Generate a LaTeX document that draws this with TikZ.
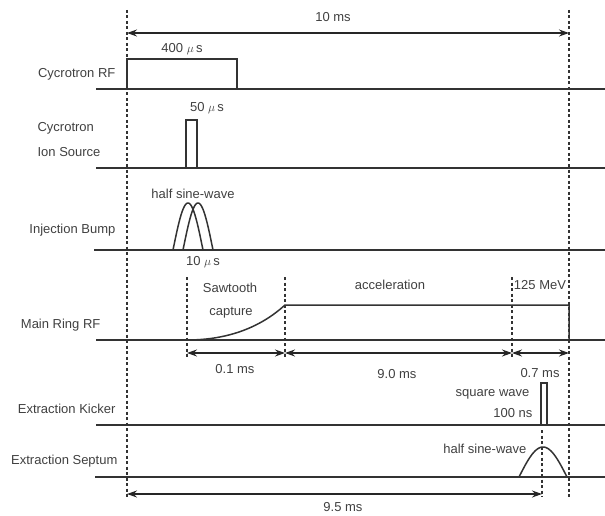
\documentclass[tikz,border=0pt]{standalone}
\usepackage{fontspec}
\setmainfont{Liberation Sans}
\usetikzlibrary{arrows.meta}
\begin{document}
\begin{tikzpicture}[x=1pt,y=-1pt,>={Stealth[length=10pt,width=7pt]},line width=1.2pt]
  \tikzstyle{lbl}=[font=\fontsize{13}{15}\selectfont, text=black!75, inner sep=0pt]
  \tikzstyle{sig}=[draw=black!80, line width=1.5pt]
  \tikzstyle{guide}=[draw=black!80, dash pattern=on 3pt off 2.5pt, line width=1.2pt]
  \tikzstyle{dim}=[draw=black!85, <->, line width=1.2pt]

  \useasboundingbox (0,0) rectangle (605,516);

  \coordinate (inj) at (127,0);
  \coordinate (ext) at (569,0);
  \coordinate (cap) at (187,0);
  \coordinate (acc) at (285,0);
  \coordinate (top) at (512,0);
  \coordinate (kick) at (542,0);

  % time marks
  \draw[guide] (127,10) -- (127,497);
  \draw[guide] (569,10) -- (569,497);
  \draw[guide] (187,277) -- (187,358);
  \draw[guide] (285,277) -- (285,358);
  \draw[guide] (512,277) -- (512,358);
  \draw[guide] (542,430) -- (542,497);

  % signal lines
  \node[lbl, anchor=east] (rf) at (116,74) {Cycrotron RF};
  \draw[sig] (96,89) -- (605,89);
  \draw[sig] (127,89) -- (127,59) -- (237,59) -- (237,89);
  \node[lbl] (rfw) at (182,49) {400 $\mu$\,s};

  \node[lbl, anchor=west] (ion1) at (37,128) {Cycrotron};
  \node[lbl, anchor=west] (ion2) at (37,152) {Ion Source};
  \draw[sig] (96,168) -- (605,168);
  \draw[sig] (186,168) -- (186,120) -- (197,120) -- (197,168);
  \node[lbl] (ionw) at (207,108) {50 $\mu$\,s};

  \node[lbl, anchor=east] (bump) at (116,230) {Injection Bump};
  \draw[sig] (94,250) -- (605,250);
  \draw[sig] plot[domain=0:180, samples=40] ({173+30*\x/180},{250-47*sin(\x)});
  \draw[sig] plot[domain=0:180, samples=40] ({183+30*\x/180},{250-47*sin(\x)});
  \node[lbl] (bumpw) at (193,194) {half sine-wave};
  \node[lbl] (bumpt) at (203,262) {10 $\mu$\,s};

  \node[lbl, anchor=east] (ring) at (101,325) {Main Ring RF};
  \draw[sig] (96,340) -- (605,340);
  \draw[sig] (187,340) .. controls (230,340) and (262,326) .. (285,305) -- (569,305) -- (569,340);
  \node[lbl] (saw1) at (230,288) {Sawtooth};
  \node[lbl] (saw2) at (231,313) {capture};
  \node[lbl] (accl) at (390,285) {acceleration};
  \node[lbl] (mev) at (540,285) {125 MeV};

  \draw[dim] (cap |- 0,353) -- (acc |- 0,353);
  \draw[dim] (acc |- 0,353) -- (top |- 0,353);
  \draw[dim] (top |- 0,353) -- (ext |- 0,353);
  \node[lbl] (d1) at (235,369) {0.1 ms};
  \node[lbl] (d2) at (397,374) {9.0 ms};
  \node[lbl] (d3) at (540,373) {0.7 ms};

  \node[lbl, anchor=east] (kicker) at (116,409) {Extraction Kicker};
  \draw[sig] (96,425) -- (605,425);
  \draw[sig] (541,425) -- (541,383) -- (547,383) -- (547,425);
  \node[lbl, anchor=east] (kick1) at (530,394) {square wave};
  \node[lbl, anchor=east] (kick2) at (533,413) {100 ns};

  \node[lbl, anchor=east] (septum) at (118,461) {Extraction Septum};
  \draw[sig] (95,477) -- (605,477);
  \draw[sig] plot[domain=0:180, samples=40] ({519+48*\x/180},{477-30*sin(\x)});
  \node[lbl, anchor=east] (septw) at (527,449) {half sine-wave};

  % spans
  \draw[dim] (inj |- 0,33) -- (ext |- 0,33);
  \node[lbl] (total) at (333,17) {10 ms};
  \draw[dim] (inj |- 0,494) -- (kick |- 0,494);
  \node[lbl] (extt) at (343,507) {9.5 ms};
\end{tikzpicture}
\end{document}
